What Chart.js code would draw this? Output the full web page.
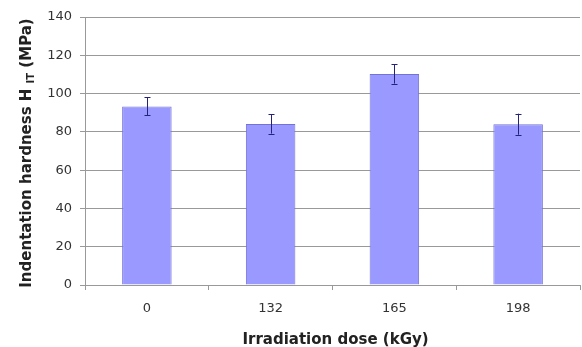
<!DOCTYPE html>
<html><head><meta charset="utf-8">
<script src="https://cdn.jsdelivr.net/npm/chart.js@4"></script>
<style>html,body{margin:0;padding:0;background:#fff;overflow:hidden}</style>
</head><body>
<canvas id="c" width="582" height="347" style="display:block;width:582px;height:347px"></canvas>
<script>
const doses = ['0', '132', '165', '198'];
const hardness = [93.3, 84.1, 110.2, 84.0];
const hardnessErr = [4.7, 5.0, 5.0, 5.5];
const yMin = 0, yMax = 140, yStep = 20;
const xTitle = 'Irradiation dose (kGy)';
const yTitleMain = 'Indentation hardness H';
const yTitleSub = 'IT';
const yTitleUnit = '(MPa)';

const FONT = "'DejaVu Sans', 'Liberation Sans', Arial, sans-serif";

const errorBars = {
  id: 'errorBars',
  afterDatasetsDraw(chart) {
    const ctx = chart.ctx, y = chart.scales.y;
    const meta = chart.getDatasetMeta(0);
    ctx.save();
    ctx.strokeStyle = '#23237a';
    ctx.lineWidth = 1;
    meta.data.forEach((bar, i) => {
      const x = Math.round(bar.x) + 0.5;
      const t = y.getPixelForValue(hardness[i] + hardnessErr[i]);
      const b = y.getPixelForValue(hardness[i] - hardnessErr[i]);
      ctx.beginPath();
      ctx.moveTo(x, t); ctx.lineTo(x, b);
      ctx.moveTo(x - 3, Math.round(t) + 0.5); ctx.lineTo(x + 3, Math.round(t) + 0.5);
      ctx.moveTo(x - 3, Math.round(b) + 0.5); ctx.lineTo(x + 3, Math.round(b) + 0.5);
      ctx.stroke();
    });
    ctx.restore();
  }
};

const titles = {
  id: 'titles',
  afterDraw(chart) {
    const ctx = chart.ctx, a = chart.chartArea;
    ctx.save();
    ctx.fillStyle = '#222';
    ctx.textBaseline = 'alphabetic';
    // x title
    ctx.font = 'bold 15px ' + FONT;
    ctx.textAlign = 'center';
    ctx.fillText(xTitle, (a.left + a.right) / 2 + 3, 344);
    // y title with subscript
    const mainFont = 'bold 15px ' + FONT, subFont = 'bold 10px ' + FONT;
    ctx.font = mainFont;
    const w1 = ctx.measureText(yTitleMain + ' ').width;
    const w3 = ctx.measureText(' ' + yTitleUnit).width;
    ctx.font = subFont;
    const w2 = ctx.measureText(yTitleSub).width;
    const total = w1 + w2 + w3;
    ctx.translate(31, (a.top + a.bottom) / 2 + 2);
    ctx.rotate(-Math.PI / 2);
    ctx.textAlign = 'left';
    let x0 = -total / 2;
    ctx.font = mainFont; ctx.fillText(yTitleMain + ' ', x0, 0);
    ctx.font = subFont; ctx.fillText(yTitleSub, x0 + w1, 3);
    ctx.font = mainFont; ctx.fillText(' ' + yTitleUnit, x0 + w1 + w2, 0);
    ctx.restore();
  }
};

new Chart(document.getElementById('c'), {
  type: 'bar',
  data: {
    labels: doses,
    datasets: [{
      data: hardness,
      backgroundColor: '#9999ff',
      borderColor: '#7373d6',
      borderWidth: 1,
      barPercentage: 0.4,
      categoryPercentage: 1.0
    }]
  },
  options: {
    responsive: false,
    animation: false,
    devicePixelRatio: 1,
    layout: { padding: { top: 17, right: 2, left: 0, bottom: 0 } },
    plugins: { legend: { display: false }, tooltip: { enabled: false } },
    scales: {
      x: {
        offset: true,
        grid: { display: true, drawOnChartArea: false, drawTicks: true, tickLength: 5, offset: true, color: '#999' },
        border: { color: '#999' },
        ticks: { font: { family: FONT, size: 13 }, color: '#333', padding: 11 },
        afterFit(s) { s.height = 62; }
      },
      y: {
        min: yMin, max: yMax,
        ticks: { stepSize: yStep, font: { family: FONT, size: 13 }, color: '#333', padding: 8 },
        grid: { color: '#999', tickLength: 5 },
        border: { color: '#999' },
        afterFit(s) { s.width = 85; }
      }
    }
  },
  plugins: [errorBars, titles]
});
</script>
</body></html>
